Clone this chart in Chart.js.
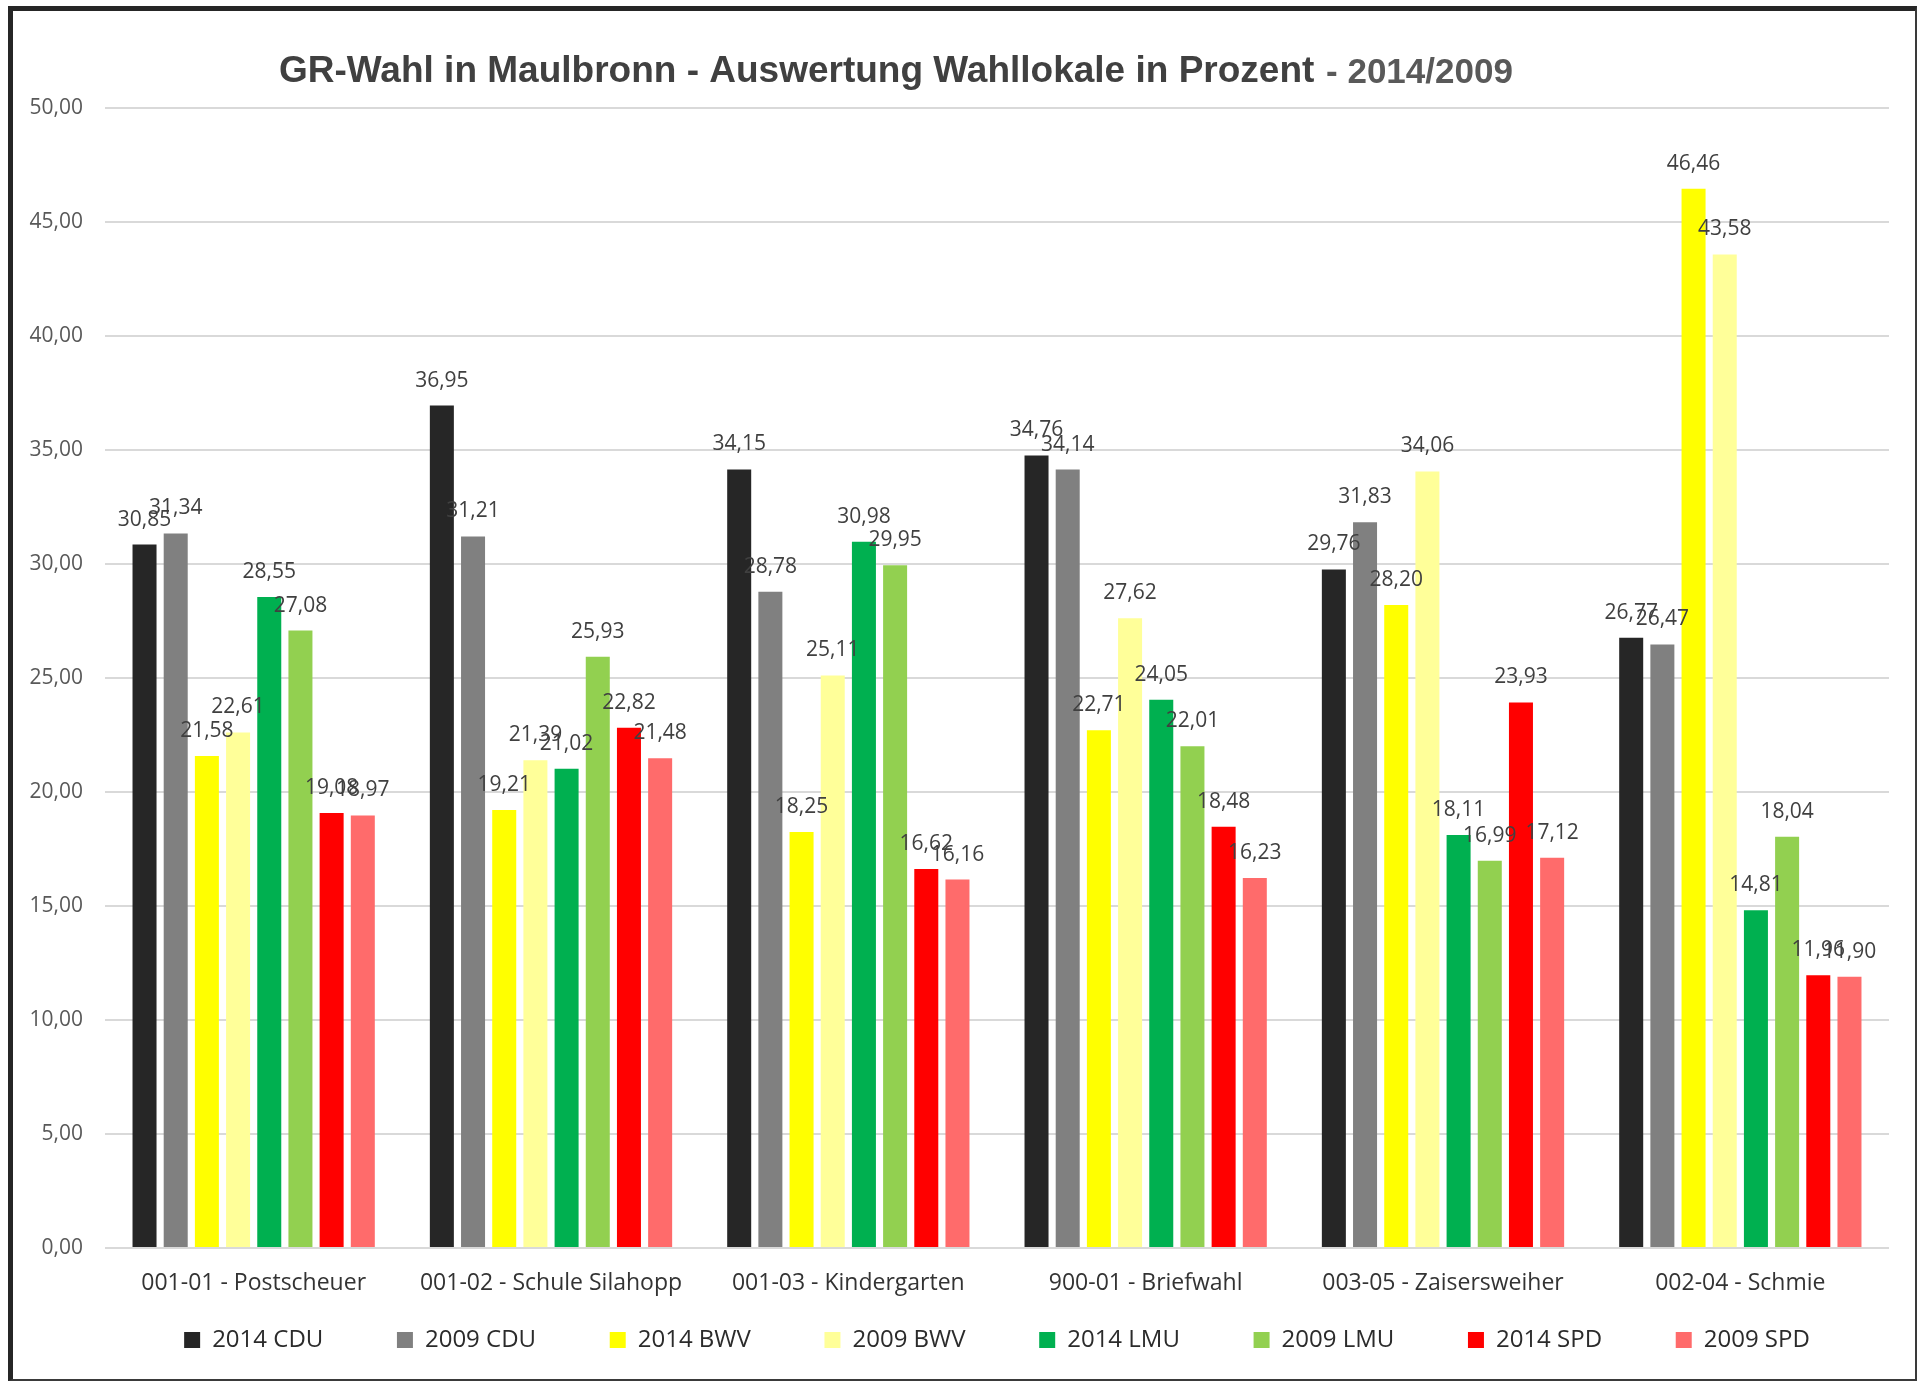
<!DOCTYPE html>
<html>
<head>
<meta charset="utf-8">
<title>GR-Wahl in Maulbronn</title>
<script src="https://cdn.jsdelivr.net/npm/chart.js@4.4.1/dist/chart.umd.min.js"></script>
<style>
  html, body { margin: 0; padding: 0; background: #ffffff; overflow: hidden; }
  #frame {
    position: absolute;
    left: 8px;
    top: 6px;
    width: 1902px;
    height: 1368px;
    border-style: solid;
    border-color: #262626 #3a3a3a #3a3a3a #262626;
    border-width: 5px 2px 2px 5px;
    background: #ffffff;
  }
  #wahl-chart { display: block; }
</style>
</head>
<body>
<div id="frame">
  <canvas id="wahl-chart" width="1902" height="1368"></canvas>
</div>
<script>
// Wahllokale (Kategorien)
const wahllokale = [
  "001-01 - Postscheuer",
  "001-02 - Schule Silahopp",
  "001-03 - Kindergarten",
  "900-01 - Briefwahl",
  "003-05 - Zaisersweiher",
  "002-04 - Schmie",
];

// Prozentwerte je Liste und Jahr
const cdu2014 = [30.85, 36.95, 34.15, 34.76, 29.76, 26.77];
const cdu2009 = [31.34, 31.21, 28.78, 34.14, 31.83, 26.47];
const bwv2014 = [21.58, 19.21, 18.25, 22.71, 28.2, 46.46];
const bwv2009 = [22.61, 21.39, 25.11, 27.62, 34.06, 43.58];
const lmu2014 = [28.55, 21.02, 30.98, 24.05, 18.11, 14.81];
const lmu2009 = [27.08, 25.93, 29.95, 22.01, 16.99, 18.04];
const spd2014 = [19.08, 22.82, 16.62, 18.48, 23.93, 11.96];
const spd2009 = [18.97, 21.48, 16.16, 16.23, 17.12, 11.9];

const seriesNames = [
  "2014 CDU", "2009 CDU", "2014 BWV", "2009 BWV",
  "2014 LMU", "2009 LMU", "2014 SPD", "2009 SPD",
];
const seriesValues = [cdu2014, cdu2009, bwv2014, bwv2009, lmu2014, lmu2009, spd2014, spd2009];
const seriesColors = [
  "#262626", "#808080", "#ffff00", "#ffff99",
  "#00b050", "#92d050", "#ff0000", "#ff6b6b",
];

const titleMain = "GR-Wahl in Maulbronn - Auswertung Wahllokale in Prozent";
const titleSub = " - 2014/2009";

// Zahl im deutschen Format (Komma)
const fmt = (v) => v.toFixed(2).replace(".", ",");

// Titel in zwei Teilen zeichnen (Hauptteil + Jahre in hellerem Grau)
const titlePlugin = {
  id: "splitTitle",
  afterDraw(chart) {
    const ctx = chart.ctx;
    ctx.save();
    ctx.textBaseline = "middle";
    ctx.textAlign = "left";
    ctx.font = "bold 37px 'Liberation Sans', Arial, sans-serif";
    ctx.fillStyle = "#404040";
    const x = 266;
    const y = 61;
    ctx.fillText(titleMain, x, y);
    const w = ctx.measureText(titleMain).width;
    ctx.font = "bold 35px 'Liberation Sans', Arial, sans-serif";
    ctx.fillStyle = "#595959";
    ctx.fillText(titleSub, x + w + 2, y + 1);
    ctx.restore();
  },
};

// Datenbeschriftungen über den Balken
const valueLabelPlugin = {
  id: "valueLabels",
  afterDatasetsDraw(chart) {
    const ctx = chart.ctx;
    ctx.save();
    ctx.font = "21px 'Open Sans', sans-serif";
    ctx.fillStyle = "#404040";
    ctx.textAlign = "center";
    ctx.textBaseline = "middle";
    chart.data.datasets.forEach((ds, i) => {
      const meta = chart.getDatasetMeta(i);
      meta.data.forEach((bar, j) => {
        ctx.fillText(fmt(ds.data[j]), bar.x, bar.y - 25);
      });
    });
    ctx.restore();
  },
};

const datasets = seriesNames.map((name, i) => ({
  label: name,
  data: seriesValues[i],
  backgroundColor: seriesColors[i],
  borderWidth: 0,
  categoryPercentage: 0.839,
  barPercentage: 0.77,
}));

const ctx = document.getElementById("wahl-chart").getContext("2d");
new Chart(ctx, {
  type: "bar",
  data: {
    labels: wahllokale,
    datasets: datasets,
  },
  options: {
    responsive: false,
    animation: false,
    devicePixelRatio: 1,
    layout: {
      padding: { top: 97, left: 0, right: 26, bottom: 17 },
    },
    scales: {
      x: {
        grid: { display: false, drawTicks: false },
        border: { display: false },
        ticks: {
          color: "#333333",
          font: { family: "'Open Sans', sans-serif", size: 23 },
          padding: 22,
          maxRotation: 0,
          autoSkip: false,
        },
        afterFit: (scale) => {
          scale.height = 50; // Platz für die Beschriftung (wird sonst abgeschnitten)
        },
      },
      y: {
        min: 0,
        max: 50,
        grid: { color: "#d9d9d9", lineWidth: 2, drawTicks: false },
        border: { display: false },
        ticks: {
          stepSize: 5,
          color: "#595959",
          font: { family: "'Open Sans', sans-serif", size: 21 },
          padding: 22,
          callback: (v) => fmt(v),
        },
        afterFit: (scale) => {
          scale.width = 92;
        },
      },
    },
    plugins: {
      title: { display: false },
      tooltip: { enabled: false },
      legend: {
        position: "bottom",
        fullSize: false,
        labels: {
          boxWidth: 16,
          boxHeight: 16,
          padding: 30,
          color: "#2b2b2b",
          font: { family: "'Open Sans', sans-serif", size: 24 },
          // Abstand zwischen den Einträgen wie im Original (breiter als vertikal)
          generateLabels: (chart) => {
            const items = Chart.defaults.plugins.legend.labels.generateLabels(chart);
            items.forEach((item, i) => {
              if (i < items.length - 1) item.text = item.text + "       ";
            });
            return items;
          },
        },
      },
    },
  },
  plugins: [titlePlugin, valueLabelPlugin],
});
</script>
</body>
</html>
